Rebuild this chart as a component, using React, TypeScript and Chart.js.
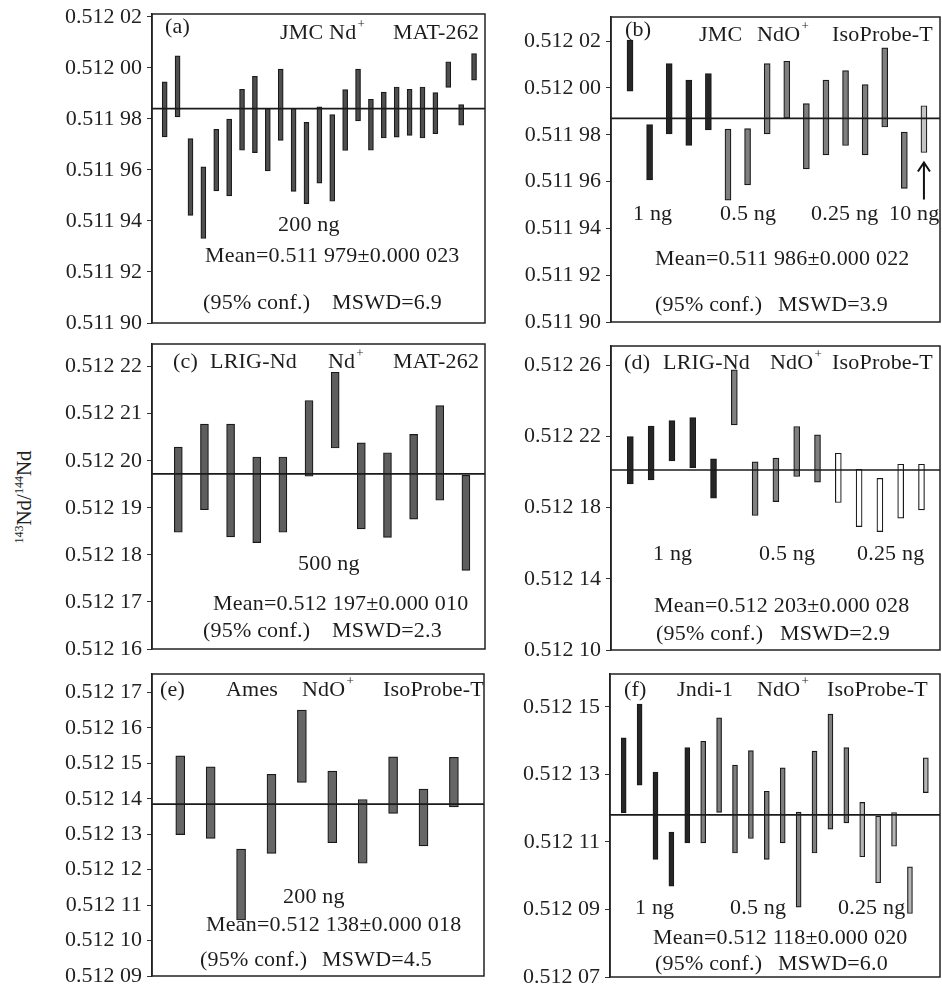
import React, { useEffect, useRef } from 'react';
import { Chart, registerables } from 'chart.js';

Chart.register(...registerables);

const SERIF = "'Liberation Serif', 'Times New Roman', Times, serif";

// ---------- Panel (a): JMC Nd+, MAT-262, 200 ng ----------
const A_LOW = [0.5119729, 0.5119808, 0.5119422, 0.5119331, 0.5119518, 0.5119498, 0.5119677, 0.5119668, 0.5119596, 0.5119716, 0.5119516, 0.5119468, 0.5119548, 0.5119477, 0.5119676, 0.5119792, 0.5119677, 0.5119725, 0.5119728, 0.5119735, 0.5119725, 0.5119742, 0.5119923, 0.5119775, 0.5119952];
const A_HIGH = [0.5119945, 0.5120047, 0.5119723, 0.5119612, 0.5119759, 0.5119799, 0.5119916, 0.5119967, 0.5119841, 0.5119995, 0.5119841, 0.5119786, 0.5119847, 0.5119817, 0.5119915, 0.5119995, 0.5119877, 0.5119905, 0.5119925, 0.5119916, 0.5119925, 0.5119903, 0.5120024, 0.5119856, 0.5120056];
const A_MEAN = 0.511984;
const A_TICKS = [0.5119, 0.51192, 0.51194, 0.51196, 0.51198, 0.512, 0.51202];

// ---------- Panel (b): JMC NdO+, IsoProbe-T ----------
const B_LOW = [0.5119986, 0.5119607, 0.5119804, 0.5119754, 0.5119821, 0.5119521, 0.5119586, 0.5119804, 0.5119871, 0.5119654, 0.5119714, 0.5119754, 0.5119714, 0.5119833, 0.5119571, 0.5119724];
const B_HIGH = [0.5120204, 0.5119843, 0.5120104, 0.5120033, 0.5120061, 0.5119824, 0.5119826, 0.5120104, 0.5120114, 0.5119933, 0.5120033, 0.5120074, 0.5120014, 0.5120171, 0.5119811, 0.5119924];
const B_GROUP = ['1 ng', '1 ng', '1 ng', '1 ng', '1 ng', '0.5 ng', '0.5 ng', '0.5 ng', '0.5 ng', '0.25 ng', '0.25 ng', '0.25 ng', '0.25 ng', '0.25 ng', '0.25 ng', '10 ng'];
const B_MEAN = 0.511987;
const B_TICKS = [0.5119, 0.51192, 0.51194, 0.51196, 0.51198, 0.512, 0.51202];

// ---------- Panel (c): LRIG-Nd Nd+, MAT-262, 500 ng ----------
const C_LOW = [0.5121848, 0.5121896, 0.5121838, 0.5121826, 0.5121848, 0.5121967, 0.5122027, 0.5121855, 0.5121837, 0.5121876, 0.5121916, 0.5121767];
const C_HIGH = [0.5122029, 0.5122078, 0.5122078, 0.5122008, 0.5122008, 0.5122128, 0.5122188, 0.5122038, 0.5122017, 0.5122056, 0.5122117, 0.5121969];
const C_MEAN = 0.5121972;
const C_TICKS = [0.51216, 0.51217, 0.51218, 0.51219, 0.5122, 0.51221, 0.51222];

// ---------- Panel (d): LRIG-Nd NdO+, IsoProbe-T ----------
const D_LOW = [0.5121933, 0.5121955, 0.5122062, 0.5122024, 0.5121852, 0.5122264, 0.5121755, 0.5121833, 0.5121974, 0.5121942, 0.5121828, 0.5121693, 0.5121665, 0.512174, 0.5121787];
const D_HIGH = [0.5122199, 0.5122258, 0.5122288, 0.5122305, 0.5122073, 0.5122573, 0.5122056, 0.5122077, 0.5122255, 0.5122208, 0.5122105, 0.5122015, 0.5121964, 0.5122043, 0.5122043];
const D_GROUP = ['1 ng', '1 ng', '1 ng', '1 ng', '1 ng', '0.5 ng', '0.5 ng', '0.5 ng', '0.5 ng', '0.5 ng', '0.25 ng', '0.25 ng', '0.25 ng', '0.25 ng', '0.25 ng'];
const D_MEAN = 0.5122011;
const D_TICKS = [0.5121, 0.51214, 0.51218, 0.51222, 0.51226];

// ---------- Panel (e): Ames NdO+, IsoProbe-T, 200 ng ----------
const E_LOW = [0.5121299, 0.5121288, 0.5121058, 0.5121246, 0.5121446, 0.5121276, 0.5121218, 0.5121359, 0.5121267, 0.5121377];
const E_HIGH = [0.5121521, 0.512149, 0.5121258, 0.5121469, 0.512165, 0.5121478, 0.5121398, 0.5121518, 0.5121427, 0.5121517];
const E_MEAN = 0.5121385;
const E_TICKS = [0.51209, 0.5121, 0.51211, 0.51212, 0.51213, 0.51214, 0.51215, 0.51216, 0.51217];

// ---------- Panel (f): Jndi-1 NdO+, IsoProbe-T ----------
const F_LOW = [0.5121186, 0.5121268, 0.5121048, 0.5120969, 0.5121097, 0.5121097, 0.5121187, 0.5121067, 0.512111, 0.5121048, 0.5121097, 0.5120907, 0.5121067, 0.5121138, 0.5121156, 0.5121056, 0.5120979, 0.5121087, 0.5120888, 0.5121246];
const F_HIGH = [0.5121408, 0.5121508, 0.5121307, 0.5121129, 0.5121379, 0.5121398, 0.5121467, 0.5121327, 0.512137, 0.512125, 0.5121319, 0.5121188, 0.5121369, 0.5121478, 0.5121379, 0.5121217, 0.5121176, 0.5121187, 0.5121026, 0.5121349];
const F_GROUP = ['1 ng', '1 ng', '1 ng', '1 ng', '1 ng', '0.5 ng', '0.5 ng', '0.5 ng', '0.5 ng', '0.5 ng', '0.5 ng', '0.5 ng', '0.5 ng', '0.5 ng', '0.5 ng', '0.25 ng', '0.25 ng', '0.25 ng', '0.25 ng', '0.25 ng'];
const F_MEAN = 0.512118;
const F_TICKS = [0.51207, 0.51209, 0.51211, 0.51213, 0.51215];

// ---------- layout / style ----------
const AXIS_W = 100;
const PAD_T = 20;
const PAD_B = 20;
const PAD_R = 2;
const TEXT_SIZE = 22;
const TICK_SIZE = 22;

type Label = { t: string; sup?: string; x: number; y: number };
type PanelCfg = {
  box: { l: number; t: number; r: number; b: number };
  xMin: number; xMax: number; yMin: number; yMax: number;
  ticks: number[]; low: number[]; high: number[]; mean: number;
  colors: string[]; barW: number; labels: Label[]; arrowAt?: number;
};

const fmtTick = (v: number) => {
  const s = v.toFixed(5);
  return s.slice(0, 5) + ' ' + s.slice(5);
};

const single = (n: number, c: string) => Array.from({ length: n }, () => c);
const byGroup = (groups: string[], palette: Record<string, string>) => groups.map((g) => palette[g]);

const PANELS: PanelCfg[] = [
  {
    box: { l: 152, t: 14, r: 485, b: 323 },
    xMin: 0.015, xMax: 25.85, yMin: 0.5119, yMax: 0.5120211,
    ticks: A_TICKS, low: A_LOW, high: A_HIGH, mean: A_MEAN,
    colors: single(A_LOW.length, '#4f4f4f'), barW: 5,
    labels: [
      { t: '(a)', x: 13, y: 13 },
      { t: 'JMC Nd', sup: '+', x: 128, y: 19 },
      { t: 'MAT-262', x: 241, y: 19 },
      { t: '200 ng', x: 126, y: 211 },
      { t: 'Mean=0.511 979\u00b10.000 023', x: 53, y: 242 },
      { t: '(95% conf.)', x: 51, y: 289 },
      { t: 'MSWD=6.9', x: 180, y: 289 },
    ],
  },
  {
    box: { l: 611, t: 17, r: 940, b: 322 },
    xMin: 0.03, xMax: 16.82, yMin: 0.5119, yMax: 0.5120303,
    ticks: B_TICKS, low: B_LOW, high: B_HIGH, mean: B_MEAN,
    colors: byGroup(B_GROUP, { '1 ng': '#262626', '0.5 ng': '#7f7f7f', '0.25 ng': '#7f7f7f', '10 ng': '#c4c4c4' }),
    barW: 6, arrowAt: 16,
    labels: [
      { t: '(b)', x: 14, y: 13 },
      { t: 'JMC', x: 88, y: 18 },
      { t: 'NdO', sup: '+', x: 146, y: 18 },
      { t: 'IsoProbe-T', x: 221, y: 18 },
      { t: '1 ng', x: 22, y: 197 },
      { t: '0.5 ng', x: 109, y: 197 },
      { t: '0.25 ng', x: 200, y: 197 },
      { t: '10 ng', x: 278, y: 197 },
      { t: 'Mean=0.511 986\u00b10.000 022', x: 44, y: 242 },
      { t: '(95% conf.)', x: 44, y: 288 },
      { t: 'MSWD=3.9', x: 167, y: 288 },
    ],
  },
  {
    box: { l: 152, t: 344, r: 485, b: 649 },
    xMin: -0.006, xMax: 12.73, yMin: 0.51216, yMax: 0.5122248,
    ticks: C_TICKS, low: C_LOW, high: C_HIGH, mean: C_MEAN,
    colors: single(C_LOW.length, '#5e5e5e'), barW: 8,
    labels: [
      { t: '(c)', x: 21, y: 18 },
      { t: 'LRIG-Nd', x: 58, y: 18 },
      { t: 'Nd', sup: '+', x: 176, y: 18 },
      { t: 'MAT-262', x: 241, y: 18 },
      { t: '500 ng', x: 146, y: 220 },
      { t: 'Mean=0.512 197\u00b10.000 010', x: 61, y: 260 },
      { t: '(95% conf.)', x: 51, y: 287 },
      { t: 'MSWD=2.3', x: 180, y: 287 },
    ],
  },
  {
    box: { l: 611, t: 346, r: 940, b: 650 },
    xMin: 0.07, xMax: 15.89, yMin: 0.5121, yMax: 0.5122707,
    ticks: D_TICKS, low: D_LOW, high: D_HIGH, mean: D_MEAN,
    colors: byGroup(D_GROUP, { '1 ng': '#262626', '0.5 ng': '#808080', '0.25 ng': '#ffffff' }),
    barW: 6,
    labels: [
      { t: '(d)', x: 13, y: 17 },
      { t: 'LRIG-Nd', x: 52, y: 17 },
      { t: 'NdO', sup: '+', x: 159, y: 17 },
      { t: 'IsoProbe-T', x: 221, y: 17 },
      { t: '1 ng', x: 42, y: 208 },
      { t: '0.5 ng', x: 148, y: 208 },
      { t: '0.25 ng', x: 246, y: 208 },
      { t: 'Mean=0.512 203\u00b10.000 028', x: 43, y: 260 },
      { t: '(95% conf.)', x: 45, y: 288 },
      { t: 'MSWD=2.9', x: 169, y: 288 },
    ],
  },
  {
    box: { l: 152, t: 674, r: 484, b: 976 },
    xMin: 0.07, xMax: 10.99, yMin: 0.51209, yMax: 0.5121752,
    ticks: E_TICKS, low: E_LOW, high: E_HIGH, mean: E_MEAN,
    colors: single(E_LOW.length, '#666666'), barW: 9,
    labels: [
      { t: '(e)', x: 8, y: 16 },
      { t: 'Ames', x: 74, y: 16 },
      { t: 'NdO', sup: '+', x: 150, y: 16 },
      { t: 'IsoProbe-T', x: 231, y: 16 },
      { t: '200 ng', x: 131, y: 223 },
      { t: 'Mean=0.512 138\u00b10.000 018', x: 54, y: 251 },
      { t: '(95% conf.)', x: 48, y: 286 },
      { t: 'MSWD=4.5', x: 170, y: 286 },
    ],
  },
  {
    box: { l: 610, t: 674, r: 940, b: 977 },
    xMin: 0.14, xMax: 20.89, yMin: 0.51207, yMax: 0.5121597,
    ticks: F_TICKS, low: F_LOW, high: F_HIGH, mean: F_MEAN,
    colors: byGroup(F_GROUP, { '1 ng': '#262626', '0.5 ng': '#7f7f7f', '0.25 ng': '#b5b5b5' }),
    barW: 5,
    labels: [
      { t: '(f)', x: 14, y: 16 },
      { t: 'Jndi-1', x: 67, y: 16 },
      { t: 'NdO', sup: '+', x: 147, y: 16 },
      { t: 'IsoProbe-T', x: 217, y: 16 },
      { t: '1 ng', x: 25, y: 234 },
      { t: '0.5 ng', x: 120, y: 234 },
      { t: '0.25 ng', x: 228, y: 234 },
      { t: 'Mean=0.512 118\u00b10.000 020', x: 43, y: 264 },
      { t: '(95% conf.)', x: 45, y: 290 },
      { t: 'MSWD=6.0', x: 168, y: 290 },
    ],
  },
];

function Panel({ cfg }: { cfg: PanelCfg }) {
  const ref = useRef<HTMLCanvasElement>(null);
  const bw = cfg.box.r - cfg.box.l;
  const bh = cfg.box.b - cfg.box.t;
  const w = AXIS_W + bw + PAD_R;
  const h = PAD_T + bh + PAD_B;

  useEffect(() => {
    const canvas = ref.current;
    if (!canvas) return;
    const overlay = {
      id: 'panelOverlay',
      afterDatasetsDraw(chart: any) {
        const { ctx, chartArea } = chart;
        ctx.save();
        ctx.strokeStyle = '#222';
        ctx.lineWidth = 1.5;
        ctx.strokeRect(chartArea.left, chartArea.top, chartArea.right - chartArea.left, chartArea.bottom - chartArea.top);
        ctx.fillStyle = '#1c1c1c';
        ctx.textBaseline = 'middle';
        ctx.textAlign = 'left';
        for (const lb of cfg.labels) {
          const x = chartArea.left + lb.x;
          const y = chartArea.top + lb.y;
          ctx.font = `${TEXT_SIZE}px ${SERIF}`;
          (ctx as any).letterSpacing = '0.2px';
          ctx.fillText(lb.t, x, y);
          if (lb.sup) {
            const tw = ctx.measureText(lb.t).width;
            ctx.font = `13px ${SERIF}`;
            (ctx as any).letterSpacing = '0px';
            ctx.fillText(lb.sup, x + tw + 1, y - 8);
          }
        }
        (ctx as any).letterSpacing = '0px';
        if (cfg.arrowAt) {
          const xs = chart.scales.x;
          const ys = chart.scales.y;
          const ax = xs.getPixelForValue(cfg.arrowAt);
          const tipY = ys.getPixelForValue(cfg.low[cfg.arrowAt - 1]) + 10;
          ctx.strokeStyle = '#111';
          ctx.lineWidth = 2;
          ctx.beginPath();
          ctx.moveTo(ax, tipY + 37);
          ctx.lineTo(ax, tipY + 1);
          ctx.stroke();
          ctx.beginPath();
          ctx.moveTo(ax - 6, tipY + 9);
          ctx.lineTo(ax, tipY);
          ctx.lineTo(ax + 6, tipY + 9);
          ctx.stroke();
        }
        ctx.restore();
      },
    };

    const chart = new Chart(canvas, {
      type: 'bar',
      data: {
        datasets: [
          {
            type: 'line',
            data: [
              { x: cfg.xMin, y: cfg.mean },
              { x: cfg.xMax, y: cfg.mean },
            ],
            borderColor: '#1a1a1a',
            borderWidth: 1.6,
            pointRadius: 0,
            order: 0,
          } as any,
          {
            type: 'bar',
            data: cfg.low.map((lo, i) => ({ x: i + 1, y: [lo, cfg.high[i]] })),
            backgroundColor: cfg.colors,
            borderColor: '#1a1a1a',
            borderWidth: 1.2,
            borderSkipped: false,
            barThickness: cfg.barW,
            grouped: false,
            order: 1,
          } as any,
        ],
      },
      options: {
        animation: false,
        responsive: false,
        events: [],
        layout: { padding: { left: 0, right: PAD_R, top: PAD_T, bottom: PAD_B } },
        plugins: {
          legend: { display: false },
          tooltip: { enabled: false },
          title: { display: false },
        },
        scales: {
          x: { type: 'linear', min: cfg.xMin, max: cfg.xMax, offset: false, display: false },
          y: {
            type: 'linear',
            min: cfg.yMin,
            max: cfg.yMax,
            afterBuildTicks: (s: any) => {
              s.ticks = cfg.ticks.map((v) => ({ value: v }));
            },
            afterFit: (s: any) => {
              s.width = AXIS_W;
            },
            ticks: {
              callback: (v: any) => fmtTick(Number(v)),
              font: { family: SERIF, size: TICK_SIZE },
              color: '#222',
              padding: 5,
              autoSkip: false,
            },
            grid: { drawOnChartArea: false, drawTicks: true, tickLength: 5, color: '#333', lineWidth: 1 },
            border: { display: true, color: '#222', width: 1.5 },
          },
        },
      } as any,
      plugins: [overlay],
    });
    return () => chart.destroy();
  }, [cfg]);

  return (
    <canvas
      ref={ref}
      width={w}
      height={h}
      style={{ position: 'absolute', left: cfg.box.l - AXIS_W, top: cfg.box.t - PAD_T, width: w, height: h }}
    />
  );
}

export default function App() {
  return (
    <div style={{ position: 'absolute', left: 0, top: 0, width: 942, height: 985, background: '#fff', overflow: 'hidden' }}>
      {PANELS.map((p, i) => (
        <Panel key={i} cfg={p} />
      ))}
      <div
        style={{
          position: 'absolute',
          left: 21,
          top: 497,
          transform: 'translate(-50%, -50%) rotate(-90deg)',
          fontFamily: SERIF,
          fontSize: 21,
          color: '#222',
          whiteSpace: 'nowrap',
          lineHeight: '24px',
        }}
      >
        <sup style={{ fontSize: 12 }}>143</sup>Nd/<sup style={{ fontSize: 12 }}>144</sup>Nd
      </div>
    </div>
  );
}
